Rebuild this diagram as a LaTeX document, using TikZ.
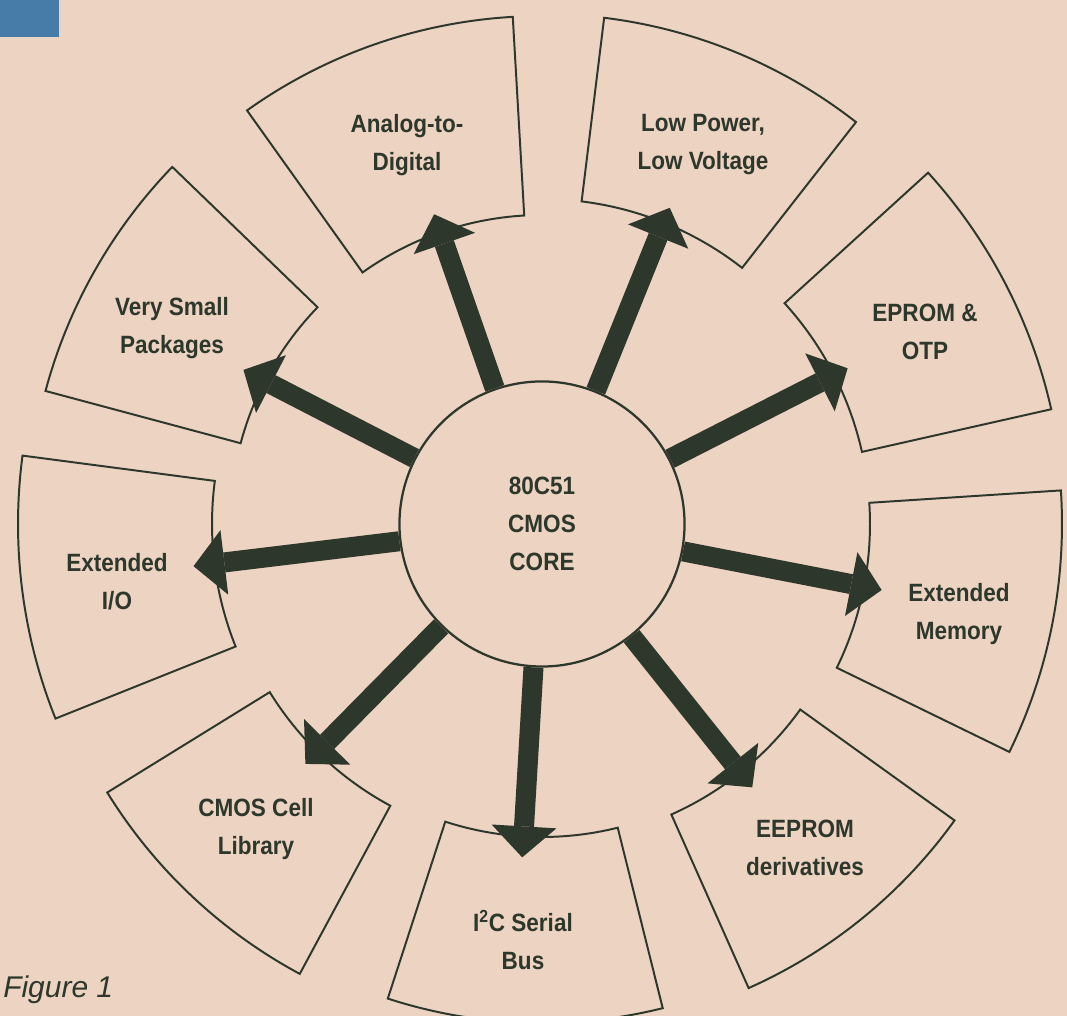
\documentclass[tikz,border=0pt]{standalone}
\usepackage{fontspec}
\setsansfont{Liberation Sans}
\newfontfamily\boxfont[FakeStretch=0.9]{Liberation Sans}
\usetikzlibrary{arrows.meta,calc}
\definecolor{PagePeach}{RGB}{237,211,193}
\definecolor{PrintInk}{RGB}{45,55,43}
\definecolor{TabBlue}{RGB}{72,124,168}
\tikzset{
    % Feature sector outline
    sectorbox/.style={
        draw=PrintInk,
        line width=1.4pt,
        line join=miter
    },
    % Feature label
    sectorlabel/.style={
        align=center,
        text=PrintInk,
        font=\boxfont\bfseries\fontsize{17.8}{27}\selectfont
    },
    % Core circle
    corenode/.style={
        circle,
        draw=PrintInk,
        line width=1.6pt,
        minimum size=7.125cm,
        inner sep=0pt,
        align=center,
        text=PrintInk,
        font=\boxfont\bfseries\fontsize{17.8}{27}\selectfont
    },
    % Fat arrow
    fatarrow/.style={
        -{Triangle[width=1.625cm,length=0.775cm,line width=0pt]},
        line width=0.5cm,
        draw=PrintInk
    },
    % Caption
    figlabel/.style={
        text=PrintInk,
        inner sep=0pt,
        font=\sffamily\itshape\fontsize{21.3}{24}\selectfont
    }
}
\begin{document}
\begin{tikzpicture}[x=0.025cm, y=0.025cm]
    % Page
    \fill[PagePeach] (0,0) rectangle (1067,1016);
    \fill[TabBlue] (0,979) rectangle (59,1016);
    \useasboundingbox (0,0) rectangle (1067,1016);

    % Core
    \node[corenode] (core) at (542,492) {80C51\\CMOS\\CORE};

    % Sectors
    \draw[sectorbox] ($(core.center)+(93.3:309)$) arc[start angle=93.3, end angle=125.5, radius=309] -- ($(core.center)+(125.5:508)$) arc[start angle=125.5, end angle=93.3, radius=508] -- cycle;
    \draw[sectorbox] ($(core.center)+(52:325)$) arc[start angle=52, end angle=83, radius=325] -- ($(core.center)+(83:510)$) arc[start angle=83, end angle=52, radius=510] -- cycle;
    \draw[sectorbox] ($(core.center)+(12.7:328)$) arc[start angle=12.7, end angle=42.3, radius=328] -- ($(core.center)+(42.3:522)$) arc[start angle=42.3, end angle=12.7, radius=522] -- cycle;
    \draw[sectorbox] ($(core.center)+(-26:328)$) arc[start angle=-26, end angle=3.7, radius=328] -- ($(core.center)+(3.7:520)$) arc[start angle=3.7, end angle=-26, radius=520] -- cycle;
    \draw[sectorbox] ($(core.center)+(-66:318)$) arc[start angle=-66, end angle=-35.7, radius=318] -- ($(core.center)+(-35.7:508)$) arc[start angle=-35.7, end angle=-66, radius=508] -- cycle;
    \draw[sectorbox] ($(core.center)+(-108:313)$) arc[start angle=-108, end angle=-76, radius=313] -- ($(core.center)+(-76:499)$) arc[start angle=-76, end angle=-108, radius=499] -- cycle;
    \draw[sectorbox] ($(core.center)+(-148.3:320)$) arc[start angle=-148.3, end angle=-118.3, radius=320] -- ($(core.center)+(-118.3:511)$) arc[start angle=-118.3, end angle=-148.3, radius=511] -- cycle;
    \draw[sectorbox] ($(core.center)+(172.5:330)$) arc[start angle=172.5, end angle=201.8, radius=330] -- ($(core.center)+(201.8:524)$) arc[start angle=201.8, end angle=172.5, radius=524] -- cycle;
    \draw[sectorbox] ($(core.center)+(136:312)$) arc[start angle=136, end angle=165, radius=312] -- ($(core.center)+(165:514)$) arc[start angle=165, end angle=136, radius=514] -- cycle;

    % Arrow tips on the inner arcs
    \coordinate (ad-tip) at ($(core.center)+(109.2:328)$);
    \coordinate (lp-tip) at ($(core.center)+(68:341)$);
    \coordinate (ep-tip) at ($(core.center)+(27:343)$);
    \coordinate (em-tip) at ($(core.center)+(-11:346)$);
    \coordinate (ee-tip) at ($(core.center)+(-51.4:337)$);
    \coordinate (ic-tip) at ($(core.center)+(-93.4:334)$);
    \coordinate (cl-tip) at ($(core.center)+(-134.6:337)$);
    \coordinate (io-tip) at ($(core.center)+(186.9:351)$);
    \coordinate (vs-tip) at ($(core.center)+(152.7:336)$);

    % Arrows
    \draw[fatarrow] (core) -- (ad-tip);
    \draw[fatarrow] (core) -- (lp-tip);
    \draw[fatarrow] (core) -- (ep-tip);
    \draw[fatarrow] (core) -- (em-tip);
    \draw[fatarrow] (core) -- (ee-tip);
    \draw[fatarrow] (core) -- (ic-tip);
    \draw[fatarrow] (core) -- (cl-tip);
    \draw[fatarrow] (core) -- (io-tip);
    \draw[fatarrow] (core) -- (vs-tip);

    % Labels
    \node[sectorlabel] (ad) at (407,871) {Analog-to-\\Digital};
    \node[sectorlabel] (lp) at (703,871) {Low Power,\\Low Voltage};
    \node[sectorlabel] (ep) at (925,684) {EPROM \&\\OTP};
    \node[sectorlabel] (em) at (959,402) {Extended\\Memory};
    \node[sectorlabel] (ee) at (805,168) {EEPROM\\derivatives};
    \node[sectorlabel] (ic) at (523,76) {I\textsuperscript{2}C Serial\\Bus};
    \node[sectorlabel] (cl) at (256,187) {CMOS Cell\\Library};
    \node[sectorlabel] (io) at (117,434) {Extended\\I/O};
    \node[sectorlabel] (vs) at (172,688) {Very Small\\Packages};

    % Caption
    \node[figlabel, anchor=base west] (fig) at (3,18) {Figure 1};
\end{tikzpicture}
\end{document}
